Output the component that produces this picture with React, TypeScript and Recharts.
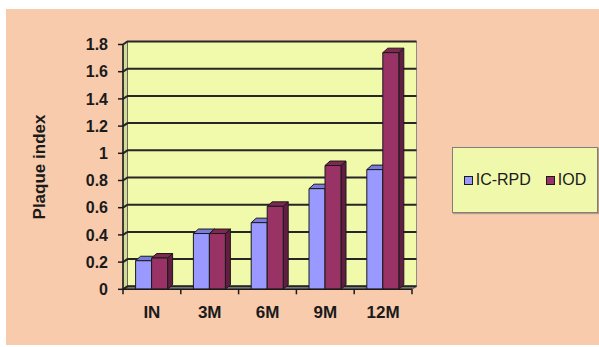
import React from 'react';
import { BarChart, Bar, XAxis, YAxis, CartesianGrid, Legend } from 'recharts';

const CATEGORIES = ['IN', '3M', '6M', '9M', '12M'];
const IC_RPD = [0.21, 0.41, 0.49, 0.74, 0.88];
const IOD = [0.23, 0.41, 0.61, 0.91, 1.74];
const Y_TICKS = [0, 0.2, 0.4, 0.6, 0.8, 1, 1.2, 1.4, 1.6, 1.8];

const data = CATEGORIES.map((name, i) => ({ name, icRpd: IC_RPD[i], iod: IOD[i] }));

const W = 599;
const H = 347;
const FONT = '"Liberation Sans", Arial, sans-serif';

// front plane of the plot
const PLOT_LEFT = 123;
const PLOT_RIGHT = 412;
const PLOT_TOP = 44.5;
const PLOT_BOTTOM = 289.3;
const BAND = (PLOT_RIGHT - PLOT_LEFT) / CATEGORIES.length;

// wall depth and bar depth (fake 3d)
const WALL_DX = 4.5;
const WALL_DY = -3;
const BAR_DX = 5;
const BAR_DY = -4.5;

const Y_AXIS_W = 60;
const X_AXIS_H = 30;

const WALL = '#f1f9aa';
const PEACH = '#f8cbad';
const INK = '#1a1a1a';

function make3dBar(front: string, top: string, side: string) {
  return (props: any) => {
    const { x, y, width: w, height: h } = props;
    if (h == null || h <= 0) return <g />;
    return (
      <g stroke={INK} strokeWidth={1} strokeLinejoin="round">
        <polygon
          points={`${x + w},${y} ${x + w + BAR_DX},${y + BAR_DY} ${x + w + BAR_DX},${y + h + BAR_DY} ${x + w},${y + h}`}
          fill={side}
        />
        <polygon
          points={`${x},${y} ${x + BAR_DX},${y + BAR_DY} ${x + w + BAR_DX},${y + BAR_DY} ${x + w},${y}`}
          fill={top}
        />
        <rect x={x} y={y} width={w} height={h} fill={front} />
      </g>
    );
  };
}

const BlueBar = make3dBar('#9999ff', '#7b7bdc', '#6464b8');
const PlumBar = make3dBar('#993366', '#7e2852', '#641d42');

// gridline runs across the left wall, then along the back wall
const gridLine = (props: any) => {
  const { x1, y1, x2, index } = props;
  const d = `M${x1},${y1} L${x1 + WALL_DX},${y1 + WALL_DY} L${x2 + WALL_DX},${y1 + WALL_DY}`;
  return <path key={`g-${index}`} d={d} fill="none" stroke="#262626" strokeWidth={2} />;
};

const XTick = (props: any) => {
  const { x, payload, index } = props;
  const left = x - BAND / 2;
  return (
    <g>
      <line x1={left} x2={left} y1={PLOT_BOTTOM} y2={PLOT_BOTTOM + 5} stroke={INK} strokeWidth={1.5} />
      {index === CATEGORIES.length - 1 && (
        <line x1={left + BAND} x2={left + BAND} y1={PLOT_BOTTOM} y2={PLOT_BOTTOM + 5} stroke={INK} strokeWidth={1.5} />
      )}
      <text x={x} y={PLOT_BOTTOM + 29} textAnchor="middle" fontFamily={FONT} fontWeight="bold" fontSize={17} fill={INK}>
        {payload.value}
      </text>
    </g>
  );
};

const YTick = (props: any) => {
  const { y, payload } = props;
  return (
    <g>
      <line x1={PLOT_LEFT - 5} x2={PLOT_LEFT} y1={y} y2={y} stroke={INK} strokeWidth={1.5} />
      <text x={PLOT_LEFT - 15} y={y} dy="0.36em" textAnchor="end" fontFamily={FONT} fontWeight="bold" fontSize={16} fill={INK}>
        {payload.value}
      </text>
    </g>
  );
};

const LegendBox = (props: any) => {
  const { payload } = props;
  return (
    <div
      style={{
        width: 146,
        height: 66,
        boxSizing: 'border-box',
        background: '#f0f8ac',
        border: '1.5px solid #7f7f7f',
        boxShadow: '1px 1px 1px rgba(0,0,0,0.25)',
        display: 'flex',
        alignItems: 'center',
        justifyContent: 'center',
        fontFamily: FONT,
        fontSize: 16,
        color: INK,
      }}
    >
      {(payload || []).map((entry: any, i: number) => (
        <span key={i} style={{ display: 'flex', alignItems: 'center', marginLeft: i ? 15 : 0 }}>
          <span
            style={{
              width: 7,
              height: 7,
              background: entry.color,
              border: `1px solid ${INK}`,
              marginRight: 3,
            }}
          />
          {entry.value}
        </span>
      ))}
    </div>
  );
};

export default function App() {
  return (
    <div style={{ position: 'absolute', left: 0, top: 0, width: W, height: H, background: '#fff' }}>
      <svg width={W} height={H} style={{ position: 'absolute', left: 0, top: 0 }}>
        <rect x={6} y={9} width={W - 6} height={H - 11} fill={PEACH} />
        {/* back wall */}
        <rect
          x={PLOT_LEFT + WALL_DX}
          y={PLOT_TOP + WALL_DY}
          width={PLOT_RIGHT - PLOT_LEFT}
          height={PLOT_BOTTOM - PLOT_TOP}
          fill={WALL}
          stroke="#8c8c8c"
          strokeWidth={1}
        />
        {/* side wall */}
        <polygon
          points={`${PLOT_LEFT},${PLOT_TOP} ${PLOT_LEFT + WALL_DX},${PLOT_TOP + WALL_DY} ${PLOT_LEFT + WALL_DX},${PLOT_BOTTOM + WALL_DY} ${PLOT_LEFT},${PLOT_BOTTOM}`}
          fill="#d3db93"
          stroke="#555"
          strokeWidth={0.8}
        />
        {/* floor */}
        <polygon
          points={`${PLOT_LEFT},${PLOT_BOTTOM} ${PLOT_RIGHT},${PLOT_BOTTOM} ${PLOT_RIGHT + WALL_DX},${PLOT_BOTTOM + WALL_DY} ${PLOT_LEFT + WALL_DX},${PLOT_BOTTOM + WALL_DY}`}
          fill="#8f8f8f"
          stroke="#3a3a3a"
          strokeWidth={0.8}
        />
        <text
          transform="translate(45,167) rotate(-90)"
          textAnchor="middle"
          fontFamily={FONT}
          fontWeight="bold"
          fontSize={17}
          fill={INK}
        >
          Plaque index
        </text>
      </svg>
      <div style={{ position: 'absolute', left: 0, top: 0 }}>
        <BarChart
          width={W}
          height={H}
          data={data}
          margin={{
            top: PLOT_TOP,
            right: W - PLOT_RIGHT,
            bottom: H - PLOT_BOTTOM - X_AXIS_H,
            left: PLOT_LEFT - Y_AXIS_W,
          }}
          barCategoryGap="21.8%"
          barGap={0}
        >
          <CartesianGrid vertical={false} horizontal={gridLine} />
          <XAxis
            dataKey="name"
            height={X_AXIS_H}
            axisLine={{ stroke: INK, strokeWidth: 1.5 }}
            tickLine={false}
            tick={<XTick />}
            interval={0}
          />
          <YAxis
            width={Y_AXIS_W}
            domain={[0, 1.8]}
            ticks={Y_TICKS}
            interval={0}
            axisLine={{ stroke: INK, strokeWidth: 1.5 }}
            tickLine={false}
            tick={<YTick />}
          />
          <Legend
            layout="horizontal"
            verticalAlign="middle"
            align="center"
            content={<LegendBox />}
            wrapperStyle={{ position: 'absolute', left: 452, top: 147, width: 146, height: 66 }}
          />
          <Bar dataKey="icRpd" name="IC-RPD" fill="#9999ff" shape={BlueBar} isAnimationActive={false} />
          <Bar dataKey="iod" name="IOD" fill="#993366" shape={PlumBar} isAnimationActive={false} />
        </BarChart>
      </div>
    </div>
  );
}
